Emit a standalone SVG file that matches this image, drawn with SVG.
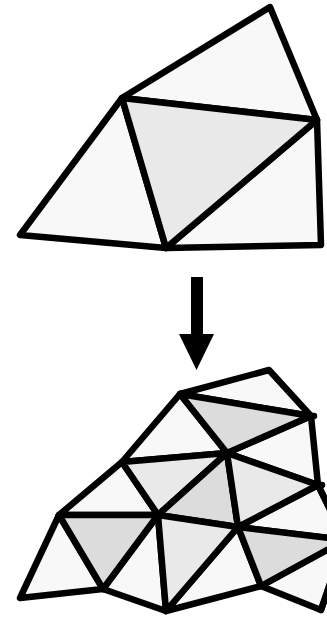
<svg xmlns="http://www.w3.org/2000/svg" width="327" height="619" viewBox="0 0 327 619">
<style>
.t{stroke:#000;stroke-width:6.5;stroke-linejoin:round;stroke-linecap:round}
.l{fill:#f8f8f8}.m{fill:#e9e9e9}.d{fill:#dcdcdc}
</style>
<rect width="327" height="619" fill="#fff"/>
<g id="top">
<polygon class="t l" points="270,7 122,98 317,120"/>
<polygon class="t l" points="122,98 20,235 166,248"/>
<polygon class="t l" points="317,120 166,248 321,245"/>
<polygon class="t m" points="122,98 317,120 166,248"/>
</g>
<polygon id="arrow" fill="#000" points="191,277 203,277 203,334 214,334 196.500,370 179,334 191,334"/>
<g id="bottom">
<polygon class="t l" points="180,394 269,370 311,416"/>
<polygon class="t l" points="180,394 122,462 227,453"/>
<polygon class="t l" points="311,416 227,453 318,485"/>
<polygon class="t l" points="122,462 59,515 158,515"/>
<polygon class="t l" points="59,515 20,598 103,589"/>
<polygon class="t l" points="158,515 103,589 166,611"/>
<polygon class="t l" points="238,527 166,611 261,586"/>
<polygon class="t l" points="318,485 238,527 345,540"/>
<polygon class="t l" points="345,540 261,586 321,610"/>
<polygon class="t d" points="180,394 311,416 227,453"/>
<polygon class="t m" points="122,462 227,453 158,515"/>
<polygon class="t d" points="227,453 158,515 238,527"/>
<polygon class="t m" points="227,453 318,485 238,527"/>
<polygon class="t d" points="59,515 158,515 103,589"/>
<polygon class="t m" points="158,515 238,527 166,611"/>
<polygon class="t d" points="238,527 345,540 261,586"/>
<path class="t" fill="none" d="M311,416L314,416M318,485L322,485M318,485L345,540M321,610L345,540"/>
</g>
</svg>
